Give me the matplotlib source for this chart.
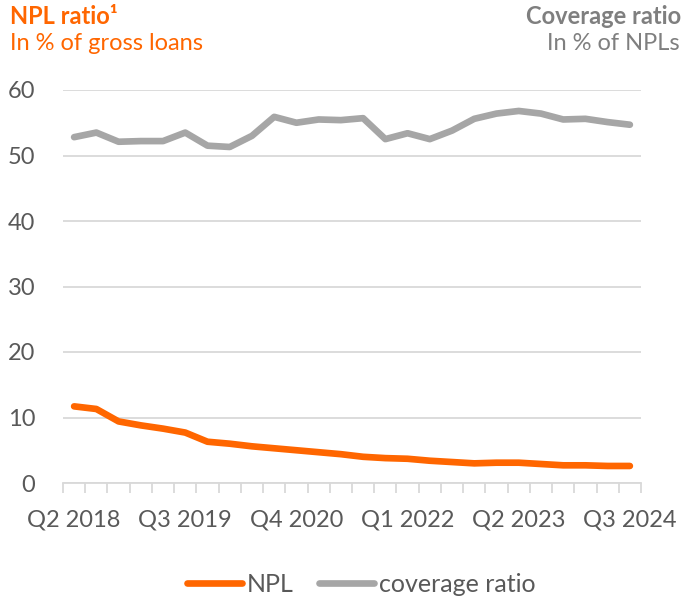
import matplotlib
matplotlib.use("Agg")
import matplotlib.pyplot as plt
import numpy as np

quarters = ["Q2 2018","Q3 2018","Q4 2018",
            "Q1 2019","Q2 2019","Q3 2019","Q4 2019",
            "Q1 2020","Q2 2020","Q3 2020","Q4 2020",
            "Q1 2021","Q2 2021","Q3 2021","Q4 2021",
            "Q1 2022","Q2 2022","Q3 2022","Q4 2022",
            "Q1 2023","Q2 2023","Q3 2023","Q4 2023",
            "Q1 2024","Q2 2024","Q3 2024"]
npl = [11.7, 11.3, 9.4, 8.8, 8.3, 7.7, 6.3, 6.0, 5.6, 5.3, 5.0, 4.7, 4.4,
       4.0, 3.8, 3.7, 3.4, 3.2, 3.0, 3.1, 3.1, 2.9, 2.7, 2.7, 2.6, 2.6]
coverage = [52.8, 53.5, 52.1, 52.2, 52.2, 53.5, 51.5, 51.3, 53.0, 55.9, 55.0,
            55.5, 55.4, 55.7, 52.5, 53.4, 52.5, 53.8, 55.6, 56.4, 56.8, 56.4,
            55.5, 55.6, 55.1, 54.7]
yticks = [0, 10, 20, 30, 40, 50, 60]

ORANGE = "#FF6600"
GREY = "#A6A6A6"
TXT = "#595959"
GRID = "#D9D9D9"
FONT = "Lato"
TS = 17

fig = plt.figure(figsize=(6.84, 6.01), dpi=100)
W, H = 684, 601
ax = fig.add_axes([63 / W, 1 - 483 / H, (641 - 63) / W, (483 - 90) / H])

x = np.arange(len(quarters))
ax.plot(x, npl, color=ORANGE, lw=4.8, solid_capstyle="round", solid_joinstyle="round", label="NPL")
ax.plot(x, coverage, color=GREY, lw=4.8, solid_capstyle="round", solid_joinstyle="round", label="coverage ratio")

ax.set_xlim(-0.5, len(quarters) - 0.5)
ax.set_ylim(0, 60)
ax.set_yticks(yticks)
ax.set_yticklabels([str(v) for v in yticks], fontsize=TS, color=TXT, family=FONT)
ax.yaxis.grid(True, color=GRID, lw=1.3)
ax.set_axisbelow(True)
for s in ["left", "right", "top"]:
    ax.spines[s].set_visible(False)
ax.spines["bottom"].set_color(GRID)
ax.spines["bottom"].set_linewidth(1.3)
ax.tick_params(axis="y", length=0, pad=20)

major = x[::5]
ax.set_xticks(major)
ax.set_xticklabels([quarters[i] for i in major], fontsize=TS, color=TXT, family=FONT)
ax.tick_params(axis="x", which="major", length=0, pad=19)
ax.set_xticks(np.arange(-0.5, len(quarters), 1.0), minor=True)
ax.tick_params(axis="x", which="minor", length=7, width=1.3, color=GRID)

leg = fig.legend(loc="center", bbox_to_anchor=(361 / W, 1 - 584 / H), ncol=2, frameon=False,
                 prop={"family": FONT, "size": 18}, handlelength=2.2,
                 handletextpad=0.2, columnspacing=1.0)
for t in leg.get_texts():
    t.set_color(TXT)

fig.text(10 / W, 1 - 16 / H, "NPL ratio¹", color=ORANGE, fontsize=17, fontweight="bold",
         family="Lato", ha="left", va="center")
fig.text(10 / W, 1 - 44 / H, "In % of gross loans", color=ORANGE, fontsize=17,
         family="Lato", ha="left", va="center")
fig.text(681 / W, 1 - 16 / H, "Coverage ratio", color="#7F7F7F", fontsize=17, fontweight="bold",
         family="Lato", ha="right", va="center")
fig.text(680 / W, 1 - 44 / H, "In % of NPLs", color="#7F7F7F", fontsize=17,
         family="Lato", ha="right", va="center")

fig.savefig("out.png", dpi=100)
